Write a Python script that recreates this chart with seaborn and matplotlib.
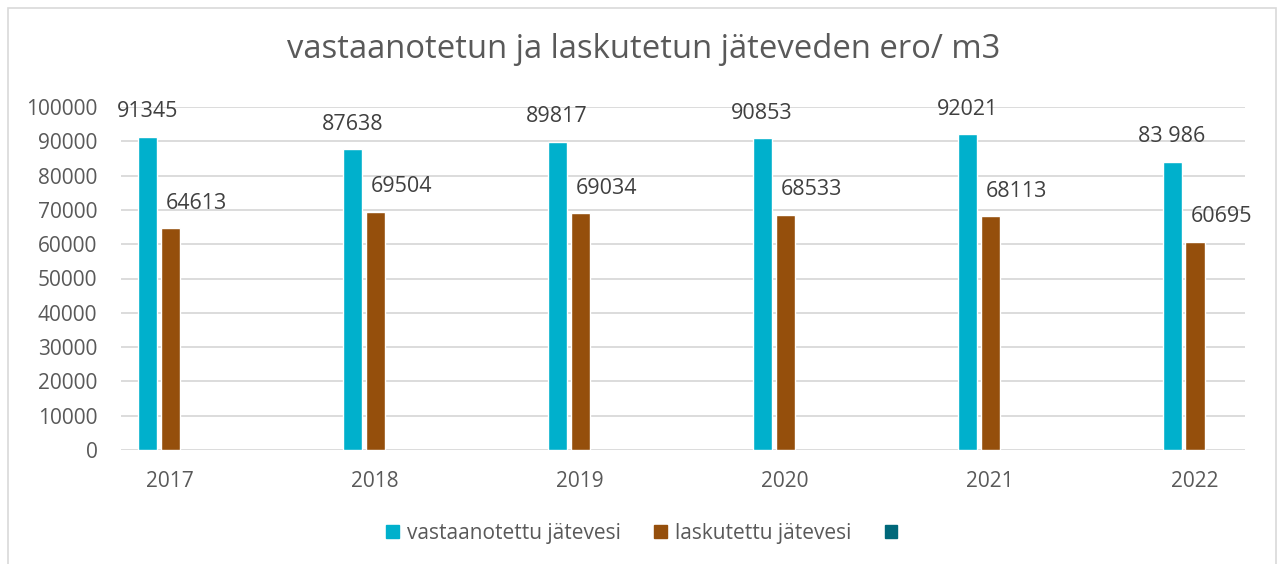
import numpy as np
import pandas as pd
import matplotlib
matplotlib.use("Agg")
import matplotlib.pyplot as plt
from matplotlib.patches import Patch, Rectangle
import seaborn as sns

# data
years = ["2017", "2018", "2019", "2020", "2021", "2022"]
vastaanotettu = [91345, 87638, 89817, 90853, 92021, 83986]
laskutettu = [64613, 69504, 69034, 68533, 68113, 60695]
tyhja = [np.nan] * 6  # third (empty) series
labels_vast = ["91345", "87638", "89817", "90853", "92021", "83 986"]
labels_lask = ["64613", "69504", "69034", "68533", "68113", "60695"]

series = ["vastaanotettu jätevesi", "laskutettu jätevesi", "sarja3"]
colors = ["#00B0CC", "#954F0C", "#00687A"]
grey = "#595959"

df = pd.DataFrame({
    "vuosi": years * 3,
    "arvo": vastaanotettu + laskutettu + tyhja,
    "sarja": [series[0]] * 6 + [series[1]] * 6 + [series[2]] * 6,
})

sns.set_style("white")
plt.rcParams["font.family"] = ["Open Sans", "DejaVu Sans"]

fig = plt.figure(figsize=(12.79, 5.64), dpi=100)
ax = fig.add_axes([121 / 1279, 1 - 450 / 564, (1245 - 121) / 1279, (450 - 107) / 564])

sns.barplot(data=df, x="vuosi", y="arvo", hue="sarja", hue_order=series,
            palette=colors, width=0.336, gap=0.17, legend=False, ax=ax,
            saturation=1, errorbar=None)

ax.set_xlim(-0.24, 5.244)
ax.set_ylim(0, 100000)
ax.set_yticks(np.arange(0, 100001, 10000))
ax.set_yticklabels([str(v) for v in range(0, 100001, 10000)])
ax.yaxis.grid(True, color="#D9D9D9", linewidth=1.3)
ax.set_axisbelow(True)
for s in ax.spines.values():
    s.set_visible(False)
ax.tick_params(axis="y", length=0, pad=17, labelsize=15, labelcolor=grey)
ax.tick_params(axis="x", length=0, pad=15, labelsize=15, labelcolor=grey)
ax.set_xlabel("")
ax.set_ylabel("")

# data labels
off = 0.336 / 3
for i in range(len(years)):
    ax.annotate(labels_vast[i], (i - off, vastaanotettu[i]), xytext=(0, 18),
                textcoords="offset points", ha="center", va="center",
                fontsize=15.5, color="#404040")
    ax.annotate(labels_lask[i], (i, laskutettu[i]), xytext=(19, 18),
                textcoords="offset points", ha="center", va="center",
                fontsize=15.5, color="#404040")

fig.text(0.503, 1 - 50 / 564, "vastaanotetun ja laskutetun jäteveden ero/ m3",
         ha="center", va="center", fontsize=23.6, color=grey)

handles = [Patch(color=c) for c in colors]
fig.legend(handles, ["vastaanotettu jätevesi", "laskutettu jätevesi", ""],
           loc="center", bbox_to_anchor=(0.505, 1 - 533 / 564), ncol=3,
           frameon=False, fontsize=15, labelcolor=grey, handlelength=0.6,
           handleheight=0.6, handletextpad=0.4, columnspacing=1.6)

fig.patches.append(Rectangle((8 / 1279, -0.01), 1268 / 1279, 1 - 8 / 564 + 0.01,
                             transform=fig.transFigure, fill=False,
                             edgecolor="#D9D9D9", linewidth=1.2))

fig.savefig("out.png", dpi=100, facecolor="white")
